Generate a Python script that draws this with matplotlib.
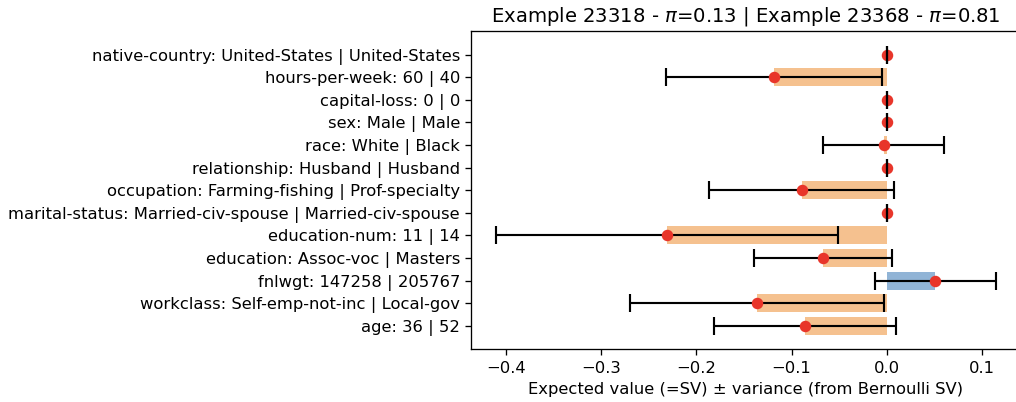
import matplotlib
matplotlib.use('Agg')
import matplotlib.pyplot as plt
import numpy as np

# Features (bottom -> top), mean of Bernoulli SV and its variance
features = ['age: 36 | 52',
            'workclass: Self-emp-not-inc | Local-gov',
            'fnlwgt: 147258 | 205767',
            'education: Assoc-voc | Masters',
            'education-num: 11 | 14',
            'marital-status: Married-civ-spouse | Married-civ-spouse',
            'occupation: Farming-fishing | Prof-specialty',
            'relationship: Husband | Husband',
            'race: White | Black',
            'sex: Male | Male',
            'capital-loss: 0 | 0',
            'hours-per-week: 60 | 40',
            'native-country: United-States | United-States']
sv_mean = [-0.086, -0.1366, 0.0505, -0.067, -0.2305, 0.0, -0.0895, 0.0, -0.0036, 0.0, 0.0, -0.1183, 0.0]
sv_var = [0.0953, 0.133, 0.0635, 0.072, 0.1792, 0.0, 0.097, 0.0, 0.0637, 0.0, 0.0, 0.1133, 0.0]

titulo = 'Example 23318 - $\\pi$=0.13 | Example 23368 - $\\pi$=0.81'

y = np.arange(len(features))
colores = ['#91b4d6' if m > 0 else '#f5c18f' for m in sv_mean]

dpi = 118
fig = plt.figure(figsize=(1016 / dpi, 402 / dpi), dpi=dpi)
ax = fig.add_axes([0.464, 0.131, 0.5405, 0.7918])

ax.barh(y, sv_mean, height=0.8, color=colores)
_, caps, _ = ax.errorbar(sv_mean, y, xerr=sv_var, fmt='none', ecolor='black',
                         elinewidth=1.3, capsize=5.5, capthick=1.3, zorder=2)
ax.plot(sv_mean, y, 'o', color='#e8352a', markersize=6, zorder=2.1)
for c in caps:
    c.set_zorder(2.2)

ax.set_yticks(y)
ax.set_yticklabels(features)
ax.set_xlabel('Expected value (=SV) ± variance (from Bernoulli SV)')
ax.set_title(titulo)

fig.savefig('out.png', dpi=dpi)
